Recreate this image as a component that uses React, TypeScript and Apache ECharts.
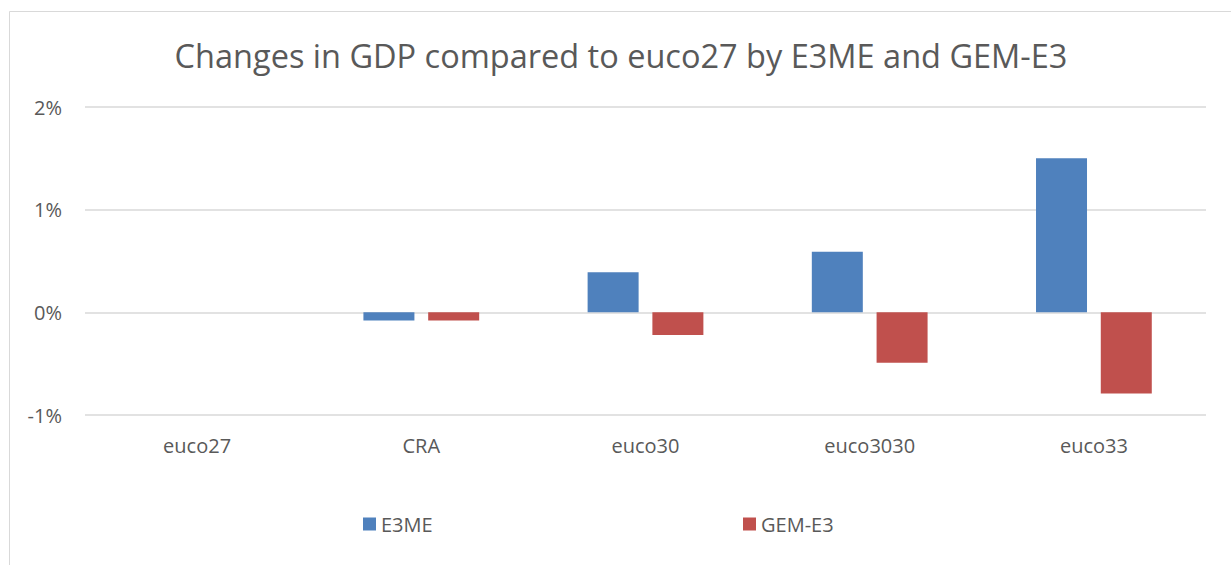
import React, { useEffect, useRef } from "react";
import * as echarts from "echarts";

const categories = ["euco27", "CRA", "euco30", "euco3030", "euco33"];
const e3meValues = [0, -0.08, 0.39, 0.59, 1.5];
const gemValues = [0, -0.08, -0.22, -0.49, -0.79];
const seriesNames = ["E3ME", "GEM-E3"];
const titleText = "Changes in GDP compared to euco27 by E3ME and GEM-E3";

const FONT = "'Open Sans', 'Noto Sans', sans-serif";
const GREY = "#595959";

export default function App() {
  const ref = useRef<HTMLDivElement>(null);
  useEffect(() => {
    if (!ref.current) return;
    const chart = echarts.init(ref.current, undefined, { renderer: "svg" });
    chart.setOption({
      animation: false,
      backgroundColor: "#ffffff",
      title: {
        text: titleText,
        left: 621,
        textAlign: "center",
        top: 39,
        padding: 0,
        textStyle: { fontFamily: FONT, fontSize: 32.5, fontWeight: "normal", color: GREY },
      },
      graphic: [
        {
          type: "rect",
          shape: { x: 9.5, y: 11.5, width: 1300, height: 700 },
          style: { fill: "none", stroke: "#d9d9d9", lineWidth: 1 },
          silent: true,
          z: -1,
        },
      ],
      legend: [
        {
          data: [seriesNames[0]],
          left: 363,
          top: 514,
          padding: 0,
          icon: "rect",
          itemWidth: 13,
          itemHeight: 13,
          itemGap: 6,
          textStyle: { fontFamily: FONT, fontSize: 20, color: GREY, padding: [0, 0, 0, 0] },
        },
        {
          data: [seriesNames[1]],
          left: 743,
          top: 514,
          padding: 0,
          icon: "rect",
          itemWidth: 13,
          itemHeight: 13,
          textStyle: { fontFamily: FONT, fontSize: 20, color: GREY, padding: [0, 0, 0, 0] },
        },
      ],
      grid: { left: 85, right: 25, top: 107, bottom: 150, containLabel: false },
      xAxis: {
        type: "category",
        data: categories,
        axisLine: { show: false },
        axisTick: { show: false },
        axisLabel: { fontFamily: FONT, fontSize: 20, color: GREY, margin: 20 },
      },
      yAxis: {
        type: "value",
        min: -1,
        max: 2,
        interval: 1,
        axisLine: { show: false },
        axisTick: { show: false },
        axisLabel: { formatter: "{value}%", fontFamily: FONT, fontSize: 20, color: GREY, margin: 23 },
        splitLine: { lineStyle: { color: "#d9d9d9", width: 1.5 } },
      },
      series: [
        {
          name: seriesNames[0],
          type: "bar",
          data: e3meValues,
          barWidth: 51,
          barGap: "27%",
          itemStyle: { color: "#4f81bd" },
        },
        {
          name: seriesNames[1],
          type: "bar",
          data: gemValues,
          barWidth: 51,
          itemStyle: { color: "#c0504d" },
        },
      ],
    });
    return () => chart.dispose();
  }, []);
  return (
    <div
      ref={ref}
      style={{ position: "absolute", left: 0, top: 0, width: 1231, height: 565 }}
    />
  );
}
